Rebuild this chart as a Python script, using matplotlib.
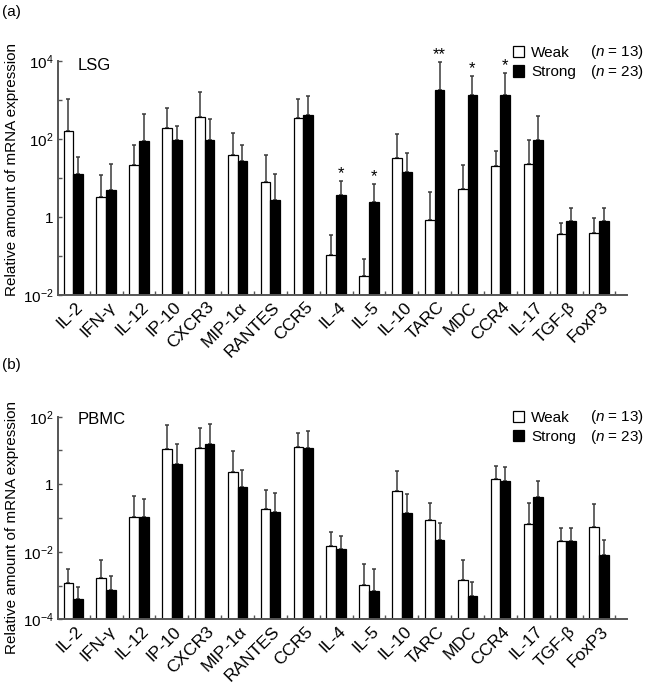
import numpy as np
import matplotlib
matplotlib.use('Agg')
import matplotlib.pyplot as plt
import matplotlib.transforms as mtransforms
from matplotlib.patches import Patch
from matplotlib.ticker import FuncFormatter

plt.rcParams['font.family'] = ['Liberation Sans', 'DejaVu Sans']
plt.rcParams['mathtext.fontset'] = 'custom'
plt.rcParams['mathtext.rm'] = 'Liberation Sans'
plt.rcParams['mathtext.it'] = 'Liberation Sans:italic'
plt.rcParams['font.size'] = 11

genes = ['IL-2', 'IFN-γ', 'IL-12', 'IP-10', 'CXCR3', 'MIP-1α', 'RANTES', 'CCR5',
         'IL-4', 'IL-5', 'IL-10', 'TARC', 'MDC', 'CCR4', 'IL-17', 'TGF-β', 'FoxP3']

# LSG (panel a) - mean and top of error bar
lsg_weak = [162, 3.3, 21, 190, 365, 40, 7.9, 337,
            0.105, 0.031, 32, 0.82, 5.1, 20.5, 22.6, 0.37, 0.39]
lsg_weak_top = [1050, 12, 72, 620, 1600, 145, 39, 1040,
                0.34, 0.082, 134, 4.4, 22, 50, 93, 0.70, 0.96]
lsg_strong = [13, 5, 90, 97, 97, 28, 2.8, 420,
              3.6, 2.4, 14.6, 1800, 1340, 1370, 95, 0.80, 0.77]
lsg_strong_top = [34, 23, 445, 218, 317, 71, 12.8, 1260,
                  8.3, 7.1, 45, 9600, 4200, 4800, 395, 1.7, 1.74]
lsg_stars = {'IL-4': '*', 'IL-5': '*', 'TARC': '**', 'MDC': '*', 'CCR4': '*'}

# PBMC (panel b)
pbmc_weak = [0.00115, 0.00166, 0.107, 11.2, 12, 2.27, 0.185, 12.9,
             0.015, 0.00107, 0.65, 0.085, 0.00145, 1.44, 0.068, 0.021, 0.053]
pbmc_weak_top = [0.0031, 0.0058, 0.46, 58, 46, 9.8, 0.66, 33,
                 0.039, 0.0042, 2.4, 0.27, 0.0057, 3.4, 0.27, 0.049, 0.26]
pbmc_strong = [0.00041, 0.00076, 0.107, 4.0, 15.8, 0.83, 0.154, 12,
               0.0123, 0.00069, 0.138, 0.022, 0.00048, 1.23, 0.41, 0.021, 0.0081]
pbmc_strong_top = [0.00093, 0.0019, 0.37, 15.4, 61, 2.7, 0.54, 38,
                   0.029, 0.0031, 0.53, 0.073, 0.0013, 3.3, 1.26, 0.049, 0.022]

W, H = 651, 684
fig = plt.figure(figsize=(W / 100, H / 100), dpi=100)

spine_col = '#555555'
err_col = '#3a3a3a'
bw = 0.295


def fy(px):
    return 1 - px / H


def draw_panel(ax, weak, weak_top, strong, strong_top, ylim, stars=None):
    x = np.arange(len(genes))
    weak = np.array(weak); strong = np.array(strong)
    weak_top = np.array(weak_top); strong_top = np.array(strong_top)
    ax.bar(x - bw / 2, weak, bw, color='white', edgecolor='black', lw=0.9, zorder=2)
    ax.bar(x + bw / 2, strong, bw, color='black', edgecolor='black', lw=0.9, zorder=2)
    for xs, v, t in [(x - bw / 2, weak, weak_top), (x + bw / 2, strong, strong_top)]:
        ax.errorbar(xs, v, yerr=[np.zeros_like(v), t - v], fmt='none',
                    ecolor=err_col, elinewidth=1.1, capsize=1.5, capthick=1.1, zorder=1)
    if stars:
        for g, s in stars.items():
            i = genes.index(g)
            ax.annotate(s, (i + bw / 2, strong_top[i]), xytext=(0, 0),
                        textcoords='offset points', ha='center', va='bottom', fontsize=12)
    ax.set_yscale('log')
    ax.set_ylim(*ylim)
    ax.set_xlim(-0.466, 16.85)
    lo, hi = int(np.log10(ylim[0])), int(np.log10(ylim[1]))
    ax.set_yticks([10.0 ** k for k in range(lo, hi + 1, 2)])
    ax.set_yticks([10.0 ** k for k in range(lo + 1, hi, 2)], minor=True)
    ax.yaxis.set_major_formatter(FuncFormatter(
        lambda v, p: '1' if abs(v - 1) < 1e-9 else r'$10^{%d}$' % round(np.log10(v))))
    ax.yaxis.set_minor_formatter(FuncFormatter(lambda v, p: ''))
    ax.tick_params(axis='y', which='both', direction='in', length=3, width=1,
                   color=spine_col, pad=3, labelsize=11)
    ax.set_xticks(np.arange(len(genes)) + 0.5)
    ax.set_xticklabels([])
    ax.set_xticks(np.arange(len(genes)), minor=True)
    ax.set_xticklabels(genes, minor=True, rotation=45, ha='right', va='center',
                       rotation_mode='anchor', fontsize=12.5)
    ax.tick_params(axis='x', which='major', direction='in', length=3, width=1, color=spine_col)
    ax.tick_params(axis='x', which='minor', length=0, pad=7)
    off = mtransforms.ScaledTranslation(7 / 100, 0, fig.dpi_scale_trans)
    for lab in ax.xaxis.get_minorticklabels():
        lab.set_transform(lab.get_transform() + off)
    for s in ['top', 'right']:
        ax.spines[s].set_visible(False)
    for s in ['left', 'bottom']:
        ax.spines[s].set_color(spine_col)
        ax.spines[s].set_linewidth(1.4)


ax1 = fig.add_axes([58 / W, fy(295), (627 - 58) / W, (295 - 61) / H])
draw_panel(ax1, lsg_weak, lsg_weak_top, lsg_strong, lsg_strong_top, (1e-2, 1e4), lsg_stars)
ax2 = fig.add_axes([58 / W, fy(619.3), (627 - 58) / W, (619.3 - 416.7) / H])
draw_panel(ax2, pbmc_weak, pbmc_weak_top, pbmc_strong, pbmc_strong_top, (1e-4, 1e2))

fig.text(78 / W, fy(66), 'LSG', ha='left', va='center', fontsize=12)
fig.text(78 / W, fy(420), 'PBMC', ha='left', va='center', fontsize=12)
fig.text(2 / W, fy(12), '(a)', ha='left', va='center', fontsize=11)
fig.text(2 / W, fy(365), '(b)', ha='left', va='center', fontsize=11)
fig.text(12 / W, fy(170), 'Relative amount of mRNA expression', rotation=90,
         ha='center', va='center', fontsize=11)
fig.text(12 / W, fy(528), 'Relative amount of mRNA expression', rotation=90,
         ha='center', va='center', fontsize=11)

handles = [Patch(facecolor='white', edgecolor='black', lw=0.9),
           Patch(facecolor='black', edgecolor='black', lw=0.9)]
for ytop in [47, 411.7]:
    fig.legend(handles, ['Weak', 'Strong'], loc='upper left',
               bbox_to_anchor=(513 / W, fy(ytop - 1)), frameon=False, borderpad=0,
               borderaxespad=0, handlelength=0.75, handleheight=0.75,
               handletextpad=0.45, labelspacing=0.35, fontsize=11)
    fig.text(590 / W, fy(ytop + 5), r'($n$ = 13)', ha='left', va='center', fontsize=11)
    fig.text(590 / W, fy(ytop + 25), r'($n$ = 23)', ha='left', va='center', fontsize=11)

fig.savefig('out.png', dpi=100)
